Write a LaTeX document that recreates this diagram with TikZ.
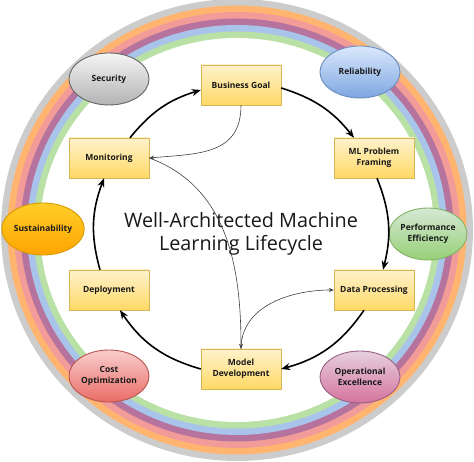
\documentclass[tikz,border=0pt]{standalone}
\usepackage{fontspec}
\setmainfont{Open Sans}
\usetikzlibrary{shapes.geometric, arrows.meta}

\definecolor{ringgray}{HTML}{CCCCCC}
\definecolor{ringorange}{HTML}{FFB570}
\definecolor{ringpink}{HTML}{F19C99}
\definecolor{ringpurple}{HTML}{B5739D}
\definecolor{ringblue}{HTML}{A9C4EB}
\definecolor{ringgreen}{HTML}{B9E0A5}
\definecolor{boxtop}{HTML}{FFF2CC}
\definecolor{boxbottom}{HTML}{FFD966}
\definecolor{boxedge}{HTML}{D6B656}
\definecolor{secedge}{HTML}{666666}
\definecolor{sectop}{HTML}{F5F5F5}
\definecolor{secbottom}{HTML}{B3B3B3}
\definecolor{reledge}{HTML}{6C8EBF}
\definecolor{reltop}{HTML}{DAE8FC}
\definecolor{relbottom}{HTML}{7EA6E0}
\definecolor{perfedge}{HTML}{82B366}
\definecolor{perftop}{HTML}{D5E8D4}
\definecolor{perfbottom}{HTML}{97D077}
\definecolor{opedge}{HTML}{996185}
\definecolor{optop}{HTML}{E6D0DE}
\definecolor{opbottom}{HTML}{D5739D}
\definecolor{costedge}{HTML}{B85450}
\definecolor{costtop}{HTML}{F8CECC}
\definecolor{costbottom}{HTML}{EA6B66}
\definecolor{susedge}{HTML}{D79B00}
\definecolor{sustop}{HTML}{FFCD28}
\definecolor{susbottom}{HTML}{FFA500}

\tikzstyle{stage} = [rectangle, minimum width=80pt, minimum height=40pt, inner sep=1pt, align=center, text=black!90, font=\fontsize{8.5}{11.5}\selectfont\bfseries, draw=boxedge, top color=boxtop, bottom color=boxbottom]
\tikzstyle{pillar} = [ellipse, minimum width=80pt, minimum height=52pt, inner sep=0pt, align=center, text=black!90, font=\fontsize{8.5}{11.5}\selectfont\bfseries, line width=0.9pt]
\tikzstyle{cyclearrow} = [line width=1.6pt, ->, >={Stealth[length=9pt,width=7pt]}]
\tikzstyle{thinarrow} = [line width=0.6pt, draw=black!75, ->, >={Stealth[length=5pt,width=4pt]}]

\begin{document}
\begin{tikzpicture}[x=1pt, y=1pt]

        \useasboundingbox (0,0) rectangle (474,462);

        % Rings of the pillars
        \fill[ringgray] (237,232) ellipse [x radius=236pt, y radius=231pt];
        \fill[ringorange] (237,232) ellipse [x radius=229.5pt, y radius=224.5pt];
        \fill[ringpink] (237,232) ellipse [x radius=223pt, y radius=218pt];
        \fill[ringpurple] (237,232) ellipse [x radius=216.5pt, y radius=211.5pt];
        \fill[ringblue] (237,232) ellipse [x radius=210pt, y radius=205pt];
        \fill[ringgreen] (237,232) ellipse [x radius=203.5pt, y radius=198.5pt];
        \fill[white] (237,232) ellipse [x radius=197pt, y radius=192pt];

        % Nodes for the lifecycle stages
        \node (goal) [stage] at (241,377) {Business Goal};
        \node (framing) [stage] at (374,304) {ML Problem\\Framing};
        \node (dataproc) [stage] at (374,172) {Data Processing};
        \node (modeldev) [stage] at (241,93) {Model\\Development};
        \node (deploy) [stage] at (109,172) {Deployment};
        \node (monitor) [stage] at (109,304) {Monitoring};

        % Nodes for the pillars
        \node (security) [pillar, draw=secedge, top color=sectop, bottom color=secbottom] at (109,383) {Security};
        \node (reliability) [pillar, draw=reledge, top color=reltop, bottom color=relbottom] at (360,390) {Reliability};
        \node (perf) [pillar, minimum width=76pt, draw=perfedge, top color=perftop, bottom color=perfbottom] at (428,228) {Performance\\Efficiency};
        \node (opex) [pillar, draw=opedge, top color=optop, bottom color=opbottom] at (360,85) {Operational\\Excellence};
        \node (cost) [pillar, draw=costedge, top color=costtop, bottom color=costbottom] at (109,86) {Cost\\Optimization};
        \node (sustain) [pillar, draw=susedge, top color=sustop, bottom color=susbottom] at (43,233) {Sustainability};

        % Node for the title
        \node (title) [align=center, text=black!90, font=\fontsize{19.8}{23.5}\selectfont] at (241,228) {Well-Architected Machine\\Learning Lifecycle};

        % Arrows of the lifecycle
        \draw [cyclearrow] ([yshift=-3pt]goal.east) to[bend left=17] ([xshift=-20pt]framing.north);
        \draw [cyclearrow] ([xshift=3pt]framing.south) to[bend left=18] ([xshift=9pt]dataproc.north);
        \draw [cyclearrow] ([xshift=-10pt]dataproc.south) to[bend left=20] (modeldev.east);
        \draw [cyclearrow] (modeldev.west) to[bend left=20] ([xshift=11pt]deploy.south);
        \draw [cyclearrow] ([xshift=-9pt]deploy.north) to[bend left=18] ([xshift=-5pt]monitor.south);
        \draw [cyclearrow] ([xshift=21pt]monitor.north) to[bend left=17] ([yshift=-5pt]goal.west);

        % Arrows for feedback
        \draw [thinarrow] (goal.south) to[out=-90, in=5, looseness=1.2] (monitor.east);
        \draw [thinarrow] (monitor.east) to[out=-20, in=90] (modeldev.north);
        \draw [thinarrow] (modeldev.north) to[out=90, in=180] (dataproc.west);

    \end{tikzpicture}
\end{document}
